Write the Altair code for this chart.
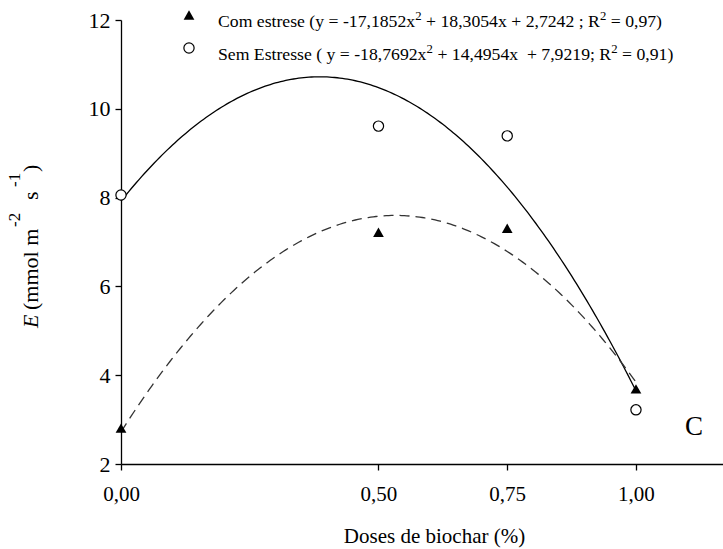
import altair as alt
import numpy as np
import pandas as pd

# Doses de biochar (%) and transpiration E (mmol m-2 s-1)
doses = [0.0, 0.50, 0.75, 1.00]
e_com_estresse = [2.81, 7.22, 7.31, 3.69]
e_sem_estresse = [8.06, 9.61, 9.39, 3.22]

# Quadratic fits a*x^2 + b*x + c, as reported for each treatment
coef_com = [-17.1852, 18.3054, 2.7242]
coef_sem = [-18.7692, 14.4954, 7.9219]

x_ticks = [0.0, 0.50, 0.75, 1.00]
y_ticks = [2, 4, 6, 8, 10, 12]

# Legend equations split into (text, is_superscript) runs
legend_runs = [
    [("Com estrese (y = -17,1852x", False), ("2", True),
     (" + 18,3054x + 2,7242 ; R", False), ("2", True), (" = 0,97)", False)],
    [("Sem Estresse ( y = -18,7692x", False), ("2", True),
     (" + 14,4954x  + 7,9219; R", False), ("2", True), (" = 0,91)", False)],
]

FONT = "Liberation Serif"
W, H = 602, 444

# Advance widths (per em) of the serif face, used to lay out mixed-size runs
ADV = {" ": .25, "(": .333, ")": .333, "+": .564, ",": .25, "-": .333, ".": .25,
       ";": .278, "=": .564, "C": .667, "E": .611, "R": .667, "S": .556,
       "e": .444, "m": .778, "o": .5, "r": .333, "s": .389, "t": .278,
       "x": .5, "y": .5}


def text_width(s, size):
    return sum(ADV.get(ch, .5) for ch in s) * size


pts_com = pd.DataFrame({"dose": doses, "E": e_com_estresse})
pts_sem = pd.DataFrame({"dose": doses, "E": e_sem_estresse})

grid = np.linspace(0.0, 1.0, 201)
fit_com = pd.DataFrame({"dose": grid, "E": np.polyval(coef_com, grid)})
fit_sem = pd.DataFrame({"dose": grid, "E": np.polyval(coef_sem, grid)})

xs = alt.Scale(domain=[0, 1.169], nice=False, zero=False)
ys = alt.Scale(domain=[2, 12], nice=False, zero=False)

x_axis = alt.Axis(
    values=x_ticks,
    labelExpr="replace(format(datum.value, '.2f'), '.', ',')",
    labelFlush=False,
    labelPadding=13,
    labelFontSize=21,
    title="Doses de biochar (%)",
    titleX=313,
    titleY=78,
    titleAlign="center",
    titleBaseline="alphabetic",
)
y_axis = alt.Axis(values=y_ticks, labelPadding=5, labelFontSize=22, title=None)


def enc(chart):
    return chart.encode(
        x=alt.X("dose:Q", scale=xs, axis=x_axis),
        y=alt.Y("E:Q", scale=ys, axis=y_axis),
    )


line_sem = enc(alt.Chart(fit_sem).mark_line(color="black", strokeWidth=1.3))
line_com = enc(
    alt.Chart(fit_com).mark_line(color="#333333", strokeWidth=1.3, strokeDash=[10, 6])
)
dots_sem = enc(
    alt.Chart(pts_sem).mark_point(
        shape="circle", size=105, fill="white", stroke="black",
        strokeWidth=1.2, filled=False, opacity=1, fillOpacity=1,
    )
)
dots_com = enc(
    alt.Chart(pts_com).mark_point(
        shape="triangle-up", size=115, filled=True, color="black", opacity=1
    )
)

one = pd.DataFrame({"k": [0]})


def label(text, px, py, size, **kw):
    return alt.Chart(one).mark_text(
        text=text, font=FONT, fontSize=size, color="black", **kw
    ).encode(x=alt.value(px), y=alt.value(py))


def run_line(runs, x0, base_y, size):
    """Lay out a line of text whose superscripts are smaller and raised."""
    layers, x = [], x0
    sup = size * 0.72
    for txt, is_sup in runs:
        fs = sup if is_sup else size
        lead = len(txt) - len(txt.lstrip(" "))
        x += text_width(" " * lead, fs)
        body = txt.strip(" ")
        dy = -size * 0.42 if is_sup else 0
        layers.append(label(body.replace("  ", "\u00a0 "), x, base_y + dy, fs,
                            align="left", baseline="alphabetic"))
        x += text_width(txt.lstrip(" "), fs)
    return layers


LEG = 17.7
legend = [
    alt.Chart(one).mark_point(shape="triangle-up", size=115, filled=True,
                              color="black", opacity=1)
    .encode(x=alt.value(68), y=alt.value(-5)),
    alt.Chart(one).mark_point(shape="circle", size=105, fill="white", stroke="black",
                              strokeWidth=1.2, filled=False, opacity=1, fillOpacity=1)
    .encode(x=alt.value(68), y=alt.value(28)),
    *run_line(legend_runs[0], 97, 7, LEG),
    *run_line(legend_runs[1], 97, 40, LEG),
]

# Vertical axis title with italic E and raised exponents
rot = dict(angle=270, align="left", baseline="alphabetic")
ytitle = [
    label("E", -83, 308, 22, fontStyle="italic", **rot),
    label("(mmol m", -83, 290, 22, **rot),
    label("-2", -101, 207, 17, **rot),
    label("s", -83, 180, 22, **rot),
    label("-1", -101, 167, 17, **rot),
    label(")", -83, 152, 22, **rot),
]

panel = label("C", 573, 415, 27, align="center", baseline="alphabetic")

chart = (
    alt.layer(line_sem, line_com, dots_sem, dots_com, *legend, *ytitle, panel)
    .properties(
        width=W,
        height=H,
        autosize=alt.AutoSizeParams(type="none"),
        padding={"left": 121, "top": 20, "right": 0, "bottom": 85},
        background="white",
    )
    .configure_view(stroke=None)
    .configure_axis(
        grid=False,
        domainColor="black",
        domainWidth=1.3,
        tickColor="black",
        tickWidth=1.3,
        tickSize=6,
        labelFont=FONT,
        labelColor="black",
        titleFont=FONT,
        titleFontSize=21,
        titleFontWeight="normal",
        titleColor="black",
    )
)

chart.save("out.html", embed_options={"renderer": "svg", "actions": False})
